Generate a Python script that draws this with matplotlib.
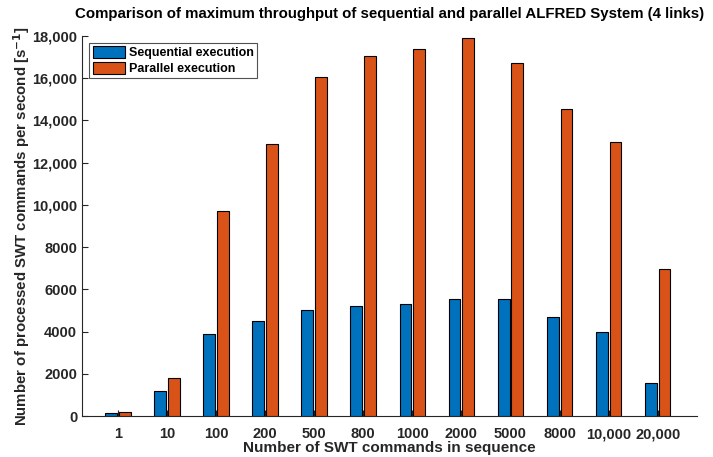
import matplotlib
matplotlib.use("Agg")
import matplotlib.pyplot as plt
import numpy as np
from matplotlib.ticker import FuncFormatter

categories = ["1", "10", "100", "200", "500", "800", "1000", "2000", "5000", "8000", "10,000", "20,000"]
sequential = [150, 1200, 3900, 4500, 5000, 5200, 5300, 5550, 5550, 4700, 4000, 1580]
parallel = [200, 1780, 9700, 12900, 16050, 17050, 17400, 17900, 16700, 14550, 13000, 6950]
yticks = [0, 2000, 4000, 6000, 8000, 10000, 12000, 14000, 16000, 18000]

plt.rcParams['font.family'] = ['Liberation Sans', 'DejaVu Sans']
plt.rcParams['font.weight'] = 'bold'
plt.rcParams['mathtext.fontset'] = 'custom'
plt.rcParams['mathtext.rm'] = 'Liberation Sans:bold'
plt.rcParams['mathtext.default'] = 'rm'

gray = (0.15, 0.15, 0.15)
fig = plt.figure(figsize=(7.13, 4.57), dpi=100)
ax = fig.add_axes([82/713, 1-416/457, (697-82)/713, (416-36)/457])

x = np.arange(len(categories))
w = 0.24
ax.bar(x - 0.14, sequential, w, color='#0072BD', edgecolor='black', linewidth=0.8, label='Sequential execution', zorder=3)
ax.bar(x + 0.14, parallel, w, color='#D95319', edgecolor='black', linewidth=0.8, label='Parallel execution', zorder=3)

ax.set_xlim(-0.73, 11.8)
ax.set_ylim(0, 18000)
ax.set_xticks(x)
ax.set_xticklabels(categories)
ax.set_yticks(yticks)
ax.yaxis.set_major_formatter(FuncFormatter(lambda v, p: f"{int(v):,}" if v >= 10000 else f"{int(v)}"))

for s in ['top', 'right']:
    ax.spines[s].set_visible(False)
for s in ['left', 'bottom']:
    ax.spines[s].set_color(gray)
    ax.spines[s].set_linewidth(0.8)
ax.tick_params(direction='in', length=4, width=0.8, color=gray, labelcolor=gray, labelsize=10.5)
ax.tick_params(axis='x', pad=8)
for lab in ax.get_xticklabels() + ax.get_yticklabels():
    lab.set_fontweight('bold')

ax.set_title('Comparison of maximum throughput of sequential and parallel ALFRED System (4 links)',
             fontsize=10.8, fontweight='bold', color='black', pad=13)
ax.set_xlabel('Number of SWT commands in sequence', fontsize=11, fontweight='bold', color=gray, labelpad=0)
ax.set_ylabel(r'Number of processed SWT commands per second [s$^{\mathbf{-1}}$]', fontsize=10.8,
              fontweight='bold', color=gray, labelpad=0)

leg = ax.legend(loc='upper left', bbox_to_anchor=(0.012, 0.982), fontsize=9, frameon=True, fancybox=False,
                borderpad=0.25, handlelength=2.6, handleheight=1.1, handletextpad=0.3, labelspacing=0.2,
                borderaxespad=0)
leg.get_frame().set_edgecolor(gray)
leg.get_frame().set_linewidth(0.8)
for t in leg.get_texts():
    t.set_fontweight('bold')

fig.savefig('out.png', dpi=100)
